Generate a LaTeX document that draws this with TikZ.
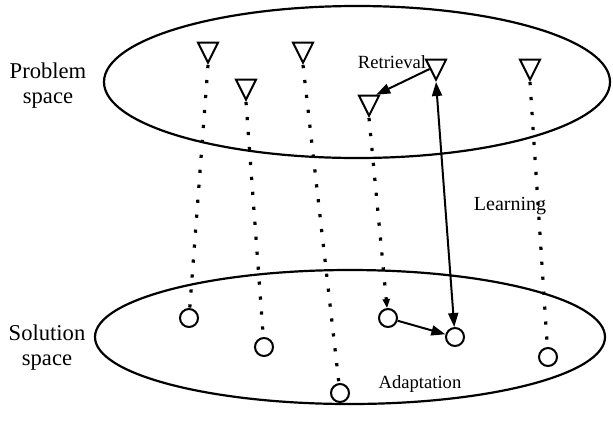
\documentclass[tikz,border=0pt]{standalone}
\usepackage{fontspec}
\setmainfont{Liberation Serif}
\usetikzlibrary{arrows.meta,positioning,shapes.geometric}

\begin{document}
\begin{tikzpicture}[
x=0.5pt,y=-0.5pt,
space/.style={ellipse,draw,line width=1.1pt,inner sep=0pt},
case/.style={isosceles triangle,draw,line width=1pt,shape border rotate=270,
  isosceles triangle apex angle=52,isosceles triangle stretches,
  minimum width=10pt,minimum height=10pt,inner sep=0pt,anchor=apex},
sol/.style={circle,draw,line width=1pt,minimum size=9pt,inner sep=0pt},
dots/.style={line width=1.6pt,dash pattern=on 1.6pt off 5.9pt},
arr/.style={-{Triangle[length=7pt,width=5pt]},line width=1pt},
arrs/.style={{Triangle[length=7pt,width=5pt]}-{Triangle[length=7pt,width=5pt]},line width=1pt},
lbl/.style={font=\fontsize{11.3}{12.5}\selectfont,align=center},
tag/.style={font=\fontsize{9.3}{11}\selectfont,inner sep=1pt}
]
\useasboundingbox (0,0) rectangle (613,423);

\node[space,minimum width=253pt,minimum height=76pt] (pspace) at (357,82) {};
\node[space,minimum width=255pt,minimum height=67pt] (sspace) at (350,337) {};
\node[lbl] (plabel) at (48,86) {Problem\\space};
\node[lbl] (slabel) at (47,348) {Solution\\space};

% problems
\node[case] (t1) at (208,65) {};
\node[case] (t2) at (246,102) {};
\node[case] (t3) at (303,65) {};
\node[case] (t4) at (369,118) {};
\node[case] (t5) at (436,82) {};
\node[case] (t6) at (530,82) {};

% solutions
\node[sol] (c1) at (189,318) {};
\node[sol] (c2) at (264,347) {};
\node[sol] (c3) at (340,393) {};
\node[sol] (c4) at (388,318) {};
\node[sol] (c5) at (455,337) {};
\node[sol] (c6) at (548,357) {};

\draw[dots] (t1.apex) -- (c1);
\draw[dots] (t2.apex) -- (c2);
\draw[dots] (t3.apex) -- (c3);
\draw[dots] (t6.apex) -- (c6);
\draw[dots,-{Triangle[length=4.5pt,width=3.5pt]}] (t4.apex) -- (c4);

\draw[arr] (t5) -- (t4.north east);
\draw[arrs] (t5.apex) -- (c5);
\draw[arr] (c4) -- (c5);

\node[tag] (retr) at (392,62) {Retrieval};
\node[tag,font=\fontsize{10}{11}\selectfont] (learn) at (510,206) {Learning};
\node[tag] (adapt) at (420,384) {Adaptation};
\end{tikzpicture}
\end{document}
